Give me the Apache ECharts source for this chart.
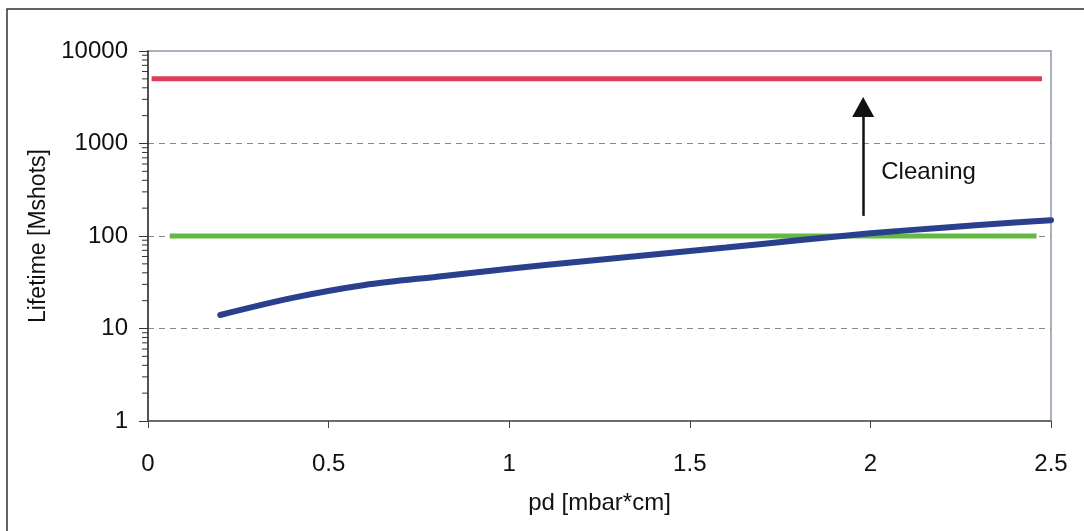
<!DOCTYPE html>
<html>
<head>
<meta charset="utf-8">
<script src="https://cdn.jsdelivr.net/npm/echarts@6/dist/echarts.min.js"></script>
<style>
  html, body { margin: 0; padding: 0; background: #fff; }
  #chart { width: 1084px; height: 531px; }
</style>
</head>
<body>
<div id="chart"></div>
<script>
// Lifetime vs. pd, log scale
const xTicks = [0, 0.5, 1, 1.5, 2, 2.5];
const yTicks = [1, 10, 100, 1000, 10000];

// upper level after cleaning
const redX = [0.01, 2.475];
const redY = [5000, 5000];
// reference level
const greenX = [0.06, 2.46];
const greenY = [100, 100];
// lifetime curve
const blueX = [0.2, 0.4, 0.6, 0.8, 1.0, 1.2, 1.4, 1.6, 1.8, 2.0, 2.2, 2.4, 2.5];
const blueY = [14.0, 21.4, 29.5, 36.3, 44.2, 53.1, 63.1, 75.0, 90.0, 107, 123, 139.6, 147.9];

// "Cleaning" arrow: from (x, y0) up to (x, y1)
const arrowX = 1.98;
const arrowY = [165, 2480];
const noteText = 'Cleaning';
const notePos = [2.03, 490];

// minor log ticks: 2..9 within each decade
const minorTicks = [];
for (let d = 0; d < 4; d++) {
  for (let k = 2; k <= 9; k++) minorTicks.push(k * Math.pow(10, d));
}

const pair = (xs, ys) => xs.map((x, i) => [x, ys[i]]);

const FONT = '"Liberation Sans", Arial, sans-serif';
const INK = '#111';

const chart = echarts.init(document.getElementById('chart'), null, { renderer: 'canvas' });

chart.setOption({
  animation: false,
  backgroundColor: '#ffffff',
  graphic: [{
    type: 'rect',
    shape: { x: 7, y: 9, width: 1200, height: 700 },
    style: { fill: 'none', stroke: '#333', lineWidth: 1.5 },
    silent: true
  }],
  grid: {
    left: 148, right: 33, top: 51, bottom: 110,
    show: true, borderColor: '#8e96a6', borderWidth: 1.5, backgroundColor: 'transparent'
  },
  xAxis: {
    type: 'value',
    min: 0, max: 2.5, interval: 0.5,
    name: 'pd [mbar*cm]',
    nameLocation: 'middle',
    nameGap: 70,
    nameTextStyle: { fontFamily: FONT, fontSize: 24, color: INK },
    axisLine: { lineStyle: { color: '#555', width: 1.5 } },
    axisTick: { show: true, length: 7, lineStyle: { color: '#444' } },
    axisLabel: {
      margin: 31, fontFamily: FONT, fontSize: 24, color: INK,
      formatter: v => (xTicks.indexOf(v) >= 0 ? String(v) : '')
    },
    splitLine: { show: false }
  },
  yAxis: {
    type: 'log',
    logBase: 10,
    min: yTicks[0], max: yTicks[yTicks.length - 1],
    name: 'Lifetime [Mshots]',
    nameLocation: 'middle',
    nameGap: 98,
    nameTextStyle: { fontFamily: FONT, fontSize: 23, color: INK },
    axisLine: { show: true, lineStyle: { color: '#333', width: 1.5 } },
    axisTick: { show: true, length: 9, lineStyle: { color: '#333' } },
    axisLabel: {
      margin: 20, fontFamily: FONT, fontSize: 24, color: INK,
      formatter: v => String(Math.round(v))
    },
    splitLine: {
      show: true,
      lineStyle: {
        color: ['transparent', '#888', '#888', '#888', 'transparent'],
        type: [6, 5], width: 1
      }
    }
  },
  series: [
    {
      name: 'minor ticks',
      type: 'custom',
      silent: true,
      clip: false,
      z: 5,
      data: minorTicks.map(v => [0, v]),
      renderItem: function (params, api) {
        const p = api.coord([0, api.value(1)]);
        return {
          type: 'line',
          shape: { x1: p[0] - 6, y1: p[1], x2: p[0], y2: p[1] },
          style: { stroke: '#333', lineWidth: 1 }
        };
      }
    },
    {
      name: 'after cleaning',
      type: 'line',
      data: pair(redX, redY),
      symbol: 'none',
      lineStyle: { color: '#dc3d58', width: 5, cap: 'butt' },
      z: 3
    },
    {
      name: 'reference',
      type: 'line',
      data: pair(greenX, greenY),
      symbol: 'none',
      lineStyle: { color: '#64b943', width: 5, cap: 'butt' },
      z: 3
    },
    {
      name: 'lifetime',
      type: 'line',
      data: pair(blueX, blueY),
      symbol: 'none',
      smooth: 0.3,
      lineStyle: { color: '#2a3f8e', width: 6, cap: 'round' },
      z: 4
    },
    {
      name: 'arrow',
      type: 'line',
      data: pair([arrowX, arrowX], arrowY),
      symbol: 'none',
      lineStyle: { width: 0 },
      silent: true,
      markLine: {
        silent: true,
        animation: false,
        symbol: ['none', 'triangle'],
        symbolSize: [22, 20],
        label: { show: false },
        lineStyle: { color: '#111', width: 2.5, type: 'solid' },
        data: [[{ coord: [arrowX, arrowY[0]] }, { coord: [arrowX, arrowY[1]] }]]
      },
      z: 6
    },
    {
      name: 'note',
      type: 'scatter',
      data: [notePos],
      symbolSize: 0,
      silent: true,
      itemStyle: { opacity: 1 },
      label: {
        show: true,
        position: 'right',
        distance: 0,
        formatter: noteText,
        fontFamily: FONT,
        fontSize: 24,
        color: INK,
        opacity: 1
      },
      z: 6
    }
  ]
});
</script>
</body>
</html>
